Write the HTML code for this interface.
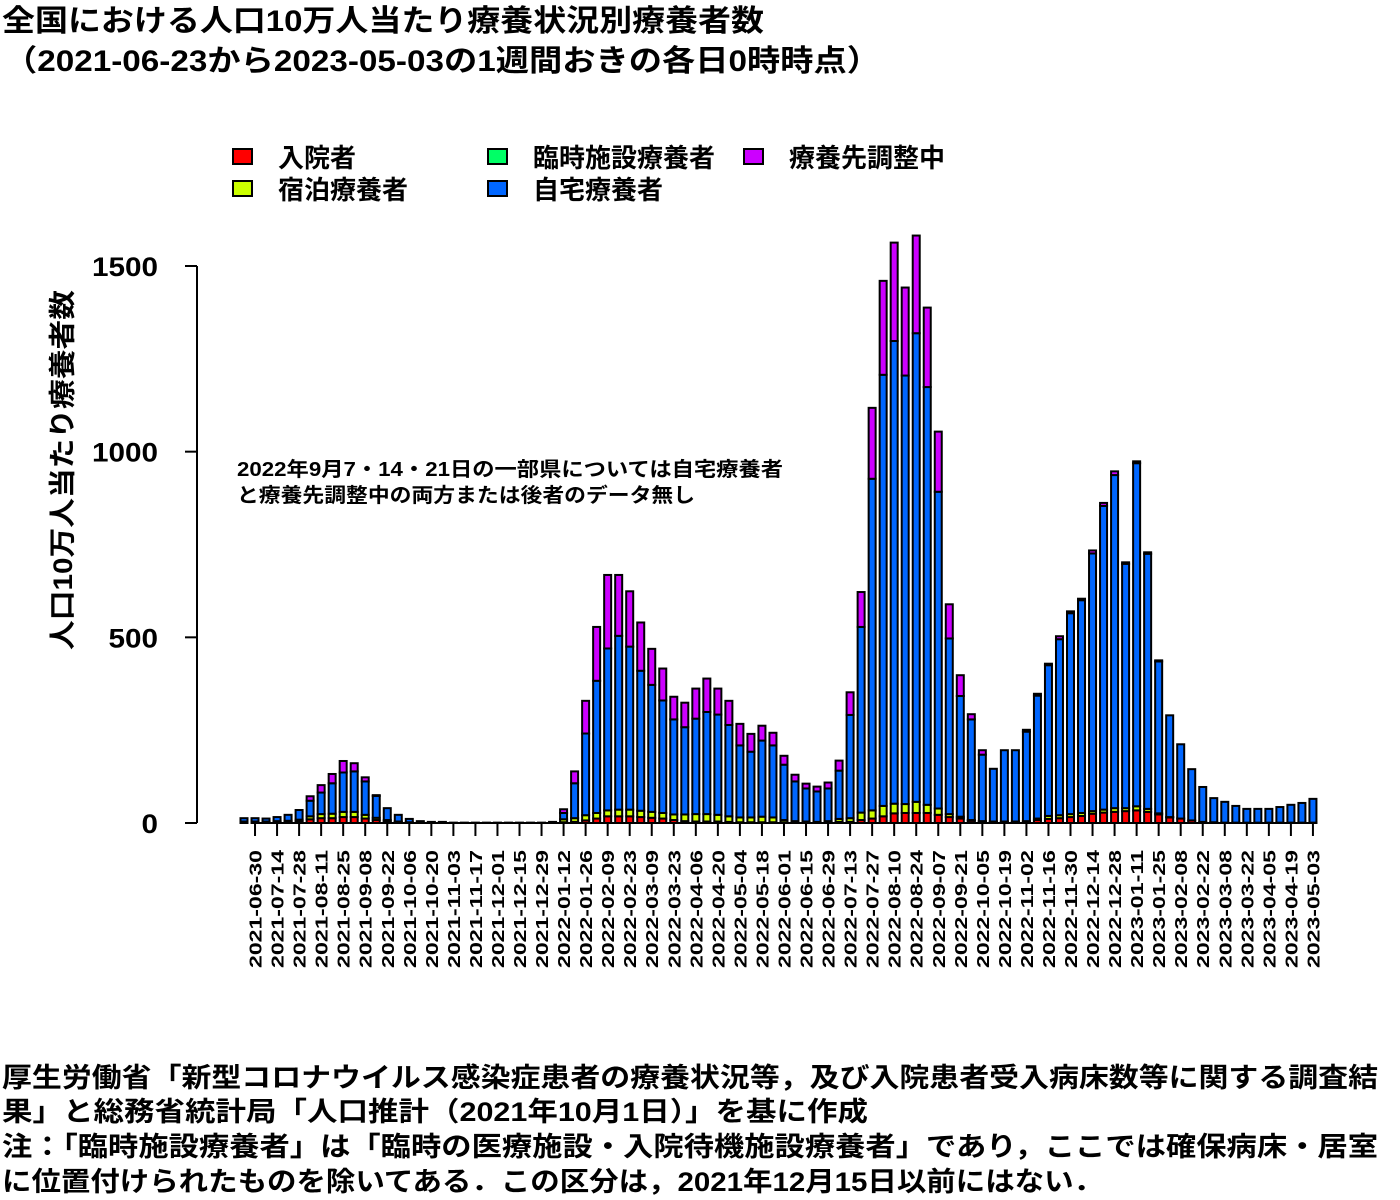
<!DOCTYPE html>
<html><head><meta charset="utf-8">
<style>
body{margin:0;background:#fff;}
#wrap{position:relative;width:1400px;height:1200px;overflow:hidden;}
</style></head><body>
<div id="wrap">
<svg id="chart" width="1400" height="1200" style="position:absolute;left:0;top:0" font-family="Liberation Sans, Noto Sans CJK JP, sans-serif" font-weight="bold">
<text x="2" y="31" font-size="30" textLength="762" lengthAdjust="spacingAndGlyphs">全国における人口10万人当たり療養状況別療養者数</text>
<text x="4" y="71" font-size="30" textLength="876" lengthAdjust="spacingAndGlyphs">（2021-06-23から2023-05-03の1週間おきの各日0時時点）</text>
<text x="2" y="1087" font-size="27" textLength="1376" lengthAdjust="spacingAndGlyphs">厚生労働省「新型コロナウイルス感染症患者の療養状況等，及び入院患者受入病床数等に関する調査結</text>
<text x="2" y="1121" font-size="27" textLength="866" lengthAdjust="spacingAndGlyphs">果」と総務省統計局「人口推計（2021年10月1日）」を基に作成</text>
<text x="2" y="1156" font-size="27" textLength="1376" lengthAdjust="spacingAndGlyphs">注：「臨時施設療養者」は「臨時の医療施設・入院待機施設療養者」であり，ここでは確保病床・居室</text>
<text x="2" y="1191" font-size="27" textLength="1101" lengthAdjust="spacingAndGlyphs">に位置付けられたものを除いてある．この区分は，2021年12月15日以前にはない．</text>
</svg>
</div>
<script>
const startDate = "2021-06-23";
const hospital = [3,3,3,3,4,5,10,13,13,16,16,12,8,4,2,1,1,1,1,0,0,0,0,0,0,0,0,0,0,2,3,7,12,18,18,18,16,14,12,8,5,4,4,4,3,2,2,2,2,2,3,2,2,2,3,3,8,12,18,26,27,27,27,22,16,12,6,4,3,3,3,4,8,11,13,16,19,25,28,30,32,34,30,23,15,12,7,3,2,1,1,1,1,1,1,1,1,1];
const hotel = [1,1,1,2,2,4,8,11,12,14,14,10,6,4,2,1,0,0,0,0,0,0,0,0,0,0,0,0,0,8,10,14,15,16,18,18,17,16,15,15,18,20,20,18,15,13,13,15,13,6,2,2,1,3,8,10,20,22,28,26,24,30,22,17,8,5,2,1,1,1,1,1,4,8,8,8,8,7,8,10,8,11,8,3,1,0,0,0,0,0,0,0,0,0,0,0,0,0];
const tempFacility = new Array(98).fill(0);
const home = [9,9,8,11,16,26,42,58,82,106,109,90,59,32,18,9,4,2,2,1,1,1,1,1,1,1,1,1,3,17,94,220,356,436,468,439,377,342,303,256,235,257,275,270,246,194,177,205,194,149,107,89,82,88,130,278,500,893,1161,1246,1154,1262,1125,853,473,325,271,179,142,192,192,241,331,406,474,541,573,694,818,897,658,924,687,409,274,200,138,94,65,56,45,37,37,37,42,48,53,64];
const adjusting = [0,0,0,0,0,0,12,20,25,31,22,11,2,0,0,0,0,0,0,0,0,0,0,0,0,0,0,0,0,10,32,88,145,198,164,149,130,97,86,61,66,81,90,70,65,58,48,40,34,24,18,13,13,16,27,61,94,191,253,265,237,263,214,162,92,56,14,12,0,0,0,5,5,4,8,5,4,8,8,10,4,5,4,3,0,0,0,0,0,0,0,0,0,0,0,0,0,0];
const yTicks = [0,500,1000,1500];
const seriesNames = ["入院者","宿泊療養者","臨時施設療養者","自宅療養者","療養先調整中"];
const seriesColors = ["#ff0000","#ccff00","#00ff66","#0066ff","#cc00ff"];

const NS="http://www.w3.org/2000/svg";
const svg=document.getElementById('chart');
function mk(tag,attrs,parent){const e=document.createElementNS(NS,tag);for(const k in attrs)e.setAttribute(k,attrs[k]);(parent||svg).appendChild(e);return e;}
const y0=823, yScale=557/1500;
function yPix(v){return y0-v*yScale;}
function xPix(i){return 244+i*11.02;}
const n=home.length;
const dates=[];
const sd=new Date(startDate+"T00:00:00Z");
for(let i=0;i<n;i++){const d=new Date(sd.getTime()+i*7*86400000);dates.push(d.toISOString().slice(0,10));}
const series=[hospital,hotel,tempFacility,home,adjusting];
const barW=7;
for(let i=0;i<n;i++){
  let cum=0;
  const g=mk('g',{});
  
  
  for(let s=0;s<series.length;s++){
    const v=series[s][i];
    const yb=yPix(cum), yt=yPix(cum+v);
    cum+=v;
    const r=mk('rect',{x:xPix(i)-barW/2,y:yt,width:barW,height:Math.max(yb-yt,0),fill:seriesColors[s],stroke:'#000','stroke-width':2},g);
    
    
  }
}
const ya=mk('line',{x1:197,y1:yPix(1500),x2:197,y2:y0,stroke:'#000','stroke-width':2});


yTicks.forEach(t=>{
  const tk=mk('line',{x1:185,y1:yPix(t),x2:197,y2:yPix(t),stroke:'#000','stroke-width':2});
  
  
  const s=String(t);
  const tl=mk('text',{x:158-s.length*16.5,y:yPix(t)+10,'font-size':27,textLength:s.length*16.5,lengthAdjust:'spacingAndGlyphs'});
  tl.textContent=s;
  
  
});
const yt=mk('text',{x:-180,y:0,transform:'translate(72,470) rotate(-90)','font-size':27,textLength:360,lengthAdjust:'spacingAndGlyphs'});
yt.textContent='人口10万人当たり療養者数';


const xa=mk('line',{x1:xPix(1),y1:y0,x2:xPix(n-1),y2:y0,stroke:'#000','stroke-width':2});


for(let i=1;i<n;i+=2){
  const tk=mk('line',{x1:xPix(i),y1:y0,x2:xPix(i),y2:y0+13,stroke:'#000','stroke-width':2});
  
  
  const tl=mk('text',{x:-118,y:0,transform:`translate(${xPix(i)+6.5},850) rotate(-90)`,'font-size':17.5,textLength:118,lengthAdjust:'spacingAndGlyphs'});
  tl.textContent=dates[i];
  
  
}
const legPos=[[233,149],[233,181],[488,149],[488,181],[744,149]];
seriesNames.forEach((nm,s)=>{
  const g=mk('g',{});
  
  
  mk('rect',{x:legPos[s][0],y:legPos[s][1],width:19,height:15,fill:seriesColors[s],stroke:'#000','stroke-width':2},g);
  const t=mk('text',{x:legPos[s][0]+45,y:legPos[s][1]+18,'font-size':26},g);
  t.textContent=nm;
});
const a1=mk('text',{x:237,y:476,'font-size':20,textLength:546,lengthAdjust:'spacingAndGlyphs'});
a1.textContent='2022年9月7・14・21日の一部県については自宅療養者';


const a2=mk('text',{x:237,y:502,'font-size':20,textLength:458,lengthAdjust:'spacingAndGlyphs'});
a2.textContent='と療養先調整中の両方または後者のデータ無し';


</script>
</body></html>
